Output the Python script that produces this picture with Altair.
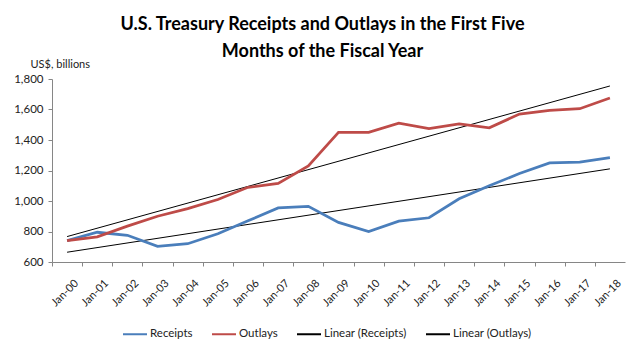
import altair as alt
import pandas as pd

months = ["Jan-00", "Jan-01", "Jan-02", "Jan-03", "Jan-04", "Jan-05", "Jan-06",
          "Jan-07", "Jan-08", "Jan-09", "Jan-10", "Jan-11", "Jan-12", "Jan-13",
          "Jan-14", "Jan-15", "Jan-16", "Jan-17", "Jan-18"]
receipts = [740, 795, 775, 703, 720, 785, 870, 955, 965, 860, 800, 868, 890,
            1015, 1100, 1180, 1250, 1255, 1285]
outlays = [740, 765, 835, 900, 950, 1010, 1090, 1115, 1230, 1450, 1450, 1510,
           1475, 1505, 1480, 1570, 1595, 1605, 1675]
series_names = ["Receipts", "Outlays", "Linear (Receipts)", "Linear (Outlays)"]
series_colors = ["#4A7EBB", "#BE4B48", "#000000", "#000000"]

rows = []
for i, m in enumerate(months):
    rows.append({"idx": i, "month": m, "series": "Receipts", "value": receipts[i]})
    rows.append({"idx": i, "month": m, "series": "Outlays", "value": outlays[i]})
df = pd.DataFrame(rows)

n = len(months)
label_arr = "[" + ",".join("'" + m + "'" for m in months) + "]"
label_expr = f"datum.value < {n} ? {label_arr}[datum.value] : ''"
band = 573 / n

FONT = "Lato"

x_enc = alt.X(
    "idx:Q",
    scale=alt.Scale(domain=[-0.5, n - 0.5], nice=False, zero=False),
    axis=alt.Axis(
        values=list(range(n + 1)),
        labelExpr=label_expr,
        labelAngle=-45,
        labelFontSize=11,
        labelFont=FONT,
        labelColor="#222222",
        labelOverlap=False,
        labelFlush=False,
        tickOffset=-band / 2,
        labelOffset=band / 2 + 5,
        tickSize=4,
        tickColor="#868686",
        domainColor="#868686",
        labelPadding=11,
        grid=False,
        title=None,
    ),
)
y_enc = alt.Y(
    "value:Q",
    scale=alt.Scale(domain=[600, 1800], nice=False, zero=False),
    axis=alt.Axis(
        values=[600, 800, 1000, 1200, 1400, 1600, 1800],
        format=",d",
        labelFontSize=11.5,
        labelFont=FONT,
        labelColor="#222222",
        labelOverlap=False,
        tickSize=4,
        tickColor="#868686",
        domainColor="#868686",
        labelPadding=5,
        grid=False,
        title="US$, billions",
        titleAngle=0,
        titleAlign="left",
        titleBaseline="middle",
        titleX=-22,
        titleY=-15,
        titleFont=FONT,
        titleFontSize=11,
        titleFontWeight="normal",
        titleColor="#222222",
    ),
)
color_enc = alt.Color(
    "series:N",
    scale=alt.Scale(domain=series_names, range=series_colors),
    legend=alt.Legend(
        title=None,
        orient="none",
        direction="horizontal",
        legendX=70,
        legendY=242,
        symbolType="stroke",
        symbolSize=576,
        symbolStrokeWidth=2,
        labelFont=FONT,
        labelFontSize=11.5,
        labelColor="#222222",
        labelOffset=2,
        columnPadding=15,
    ),
)

base = alt.Chart(df)

lines = base.mark_line(strokeWidth=2.75).encode(
    x=x_enc, y=y_enc, color=color_enc,
    order="idx:Q",
)

trend = base.transform_regression(
    "idx", "value", groupby=["series"]
).transform_calculate(
    series="'Linear (' + datum.series + ')'"
).mark_line(strokeWidth=1).encode(
    x=x_enc, y=y_enc, color=color_enc,
)

chart = alt.layer(trend, lines).properties(
    width=573,
    height=183,
    autosize=alt.AutoSizeParams(type="none"),
    padding={"left": 52, "top": 79, "right": 15, "bottom": 88},
    title=alt.TitleParams(
        text=["U.S. Treasury Receipts and Outlays in the First Five",
              "Months of the Fiscal Year"],
        font=FONT,
        fontSize=18,
        fontWeight="bold",
        color="#000000",
        lineHeight=27,
        anchor="middle",
        dx=-16,
        offset=-3,
    ),
).configure_view(stroke=None)

chart.save("out.html", embed_options={"renderer": "svg", "actions": False})
